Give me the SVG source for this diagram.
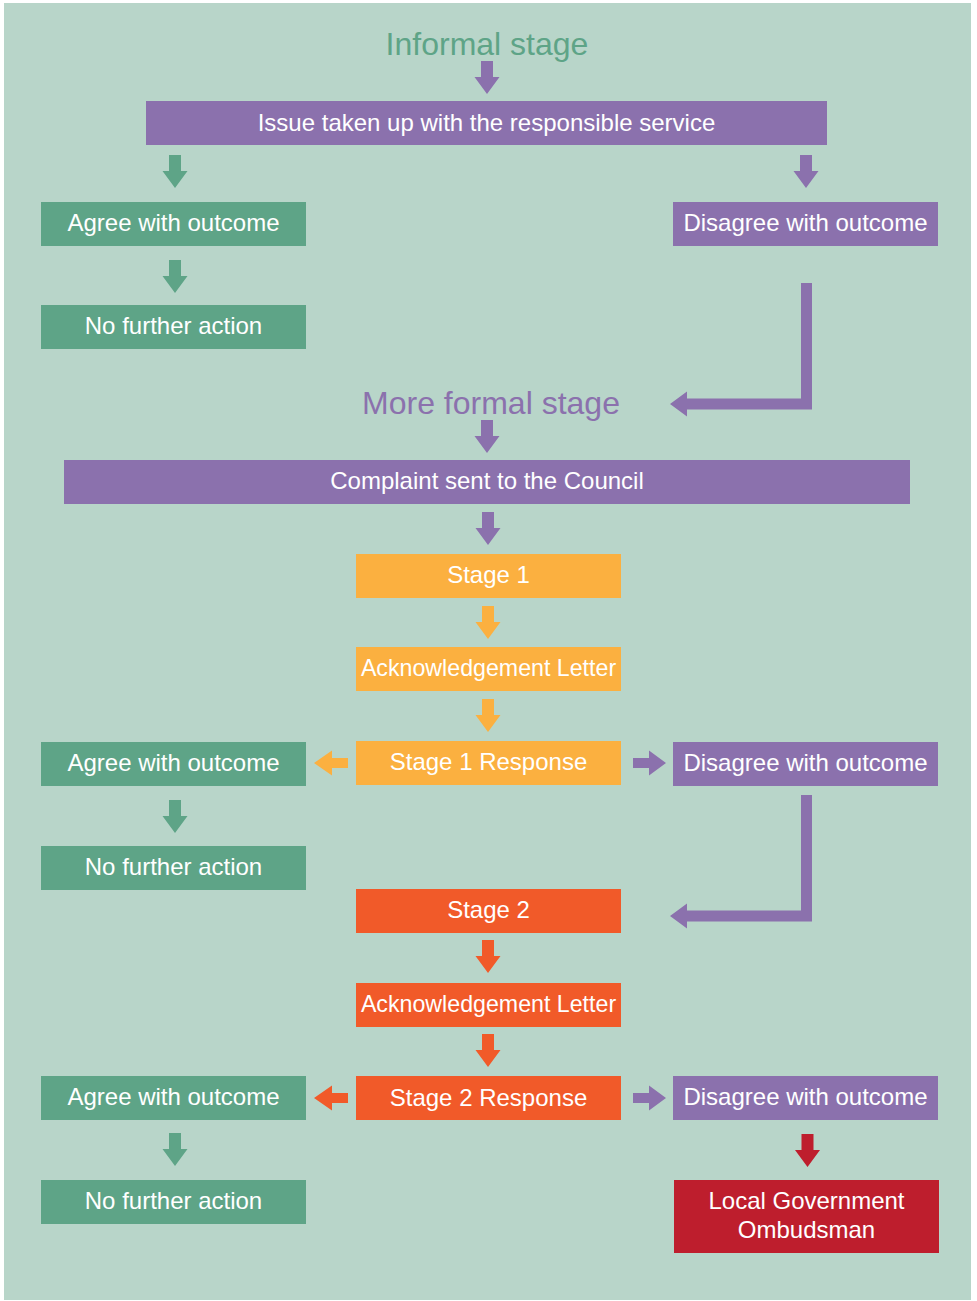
<svg xmlns="http://www.w3.org/2000/svg" width="977" height="1301" viewBox="0 0 977 1301">
<style>
.bg{fill:#b8d5c9}
.pu{fill:#8b71ad}
.gr{fill:#5ea487}
.or{fill:#fbb040}
.ro{fill:#f15a29}
.dr{fill:#be1e2d}
text{font-family:"Liberation Sans",Arial,sans-serif;text-anchor:middle}
.t{fill:#ffffff;font-size:24px}
.ack{font-size:23.2px}
.h{font-size:32px}
</style>
<defs>
<path id="ad" d="M-6,0 H6 V16 H12.5 L0,33 L-12.5,16 H-6 Z"/>
</defs>
<rect x="0" y="0" width="977" height="1301" fill="#ffffff"/>
<rect class="bg" x="4" y="3" width="967" height="1297"/>

<g id="informal-title"><text class="h" x="487" y="55" fill="#5ea487">Informal stage</text></g>
<g id="issue"><rect class="pu" x="146" y="101" width="681" height="44"/><text class="t" x="486.5" y="131">Issue taken up with the responsible service</text></g>
<g id="agree1"><rect class="gr" x="41" y="202" width="265" height="44"/><text class="t" x="173.5" y="231">Agree with outcome</text></g>
<g id="disagree1"><rect class="pu" x="673" y="202" width="265" height="44"/><text class="t" x="805.5" y="231">Disagree with outcome</text></g>
<g id="nfa1"><rect class="gr" x="41" y="305" width="265" height="44"/><text class="t" x="173.5" y="334">No further action</text></g>
<g id="formal-title"><text class="h" x="491" y="414" fill="#8b71ad">More formal stage</text></g>
<g id="complaint"><rect class="pu" x="64" y="460" width="846" height="44"/><text class="t" x="487" y="489">Complaint sent to the Council</text></g>
<g id="stage1"><rect class="or" x="356" y="554" width="265" height="44"/><text class="t" x="488.5" y="583">Stage 1</text></g>
<g id="ack1"><rect class="or" x="356" y="647" width="265" height="44"/><text class="t ack" x="488.5" y="676">Acknowledgement Letter</text></g>
<g id="resp1"><rect class="or" x="356" y="741" width="265" height="44"/><text class="t" x="488.5" y="770">Stage 1 Response</text></g>
<g id="agree2"><rect class="gr" x="41" y="742" width="265" height="44"/><text class="t" x="173.5" y="771">Agree with outcome</text></g>
<g id="disagree2"><rect class="pu" x="673" y="742" width="265" height="44"/><text class="t" x="805.5" y="771">Disagree with outcome</text></g>
<g id="nfa2"><rect class="gr" x="41" y="846" width="265" height="44"/><text class="t" x="173.5" y="875">No further action</text></g>
<g id="stage2"><rect class="ro" x="356" y="889" width="265" height="44"/><text class="t" x="488.5" y="918">Stage 2</text></g>
<g id="ack2"><rect class="ro" x="356" y="983" width="265" height="44"/><text class="t ack" x="488.5" y="1012">Acknowledgement Letter</text></g>
<g id="resp2"><rect class="ro" x="356" y="1076" width="265" height="44"/><text class="t" x="488.5" y="1106">Stage 2 Response</text></g>
<g id="agree3"><rect class="gr" x="41" y="1076" width="265" height="44"/><text class="t" x="173.5" y="1105">Agree with outcome</text></g>
<g id="disagree3"><rect class="pu" x="673" y="1076" width="265" height="44"/><text class="t" x="805.5" y="1105">Disagree with outcome</text></g>
<g id="nfa3"><rect class="gr" x="41" y="1180" width="265" height="44"/><text class="t" x="173.5" y="1209">No further action</text></g>
<g id="lgo"><rect class="dr" x="674" y="1180" width="265" height="73"/><text class="t" x="806.5" y="1209">Local Government</text><text class="t" x="806.5" y="1238">Ombudsman</text></g>

<g id="connectors">
<use href="#ad" class="pu" x="487" y="61"/>
<use href="#ad" class="gr" x="175" y="155"/>
<use href="#ad" class="pu" x="806" y="155"/>
<use href="#ad" class="gr" x="175" y="260"/>
<path class="pu" d="M801,283 H812 V409.5 H687 V416.5 L670,404 L687,391.5 V398.5 H801 Z"/>
<use href="#ad" class="pu" x="487" y="420"/>
<use href="#ad" class="pu" x="488" y="512"/>
<use href="#ad" class="or" x="488" y="606"/>
<use href="#ad" class="or" x="488" y="699"/>
<path class="or" d="M348,758 V768 H332 V775.5 L314,763 L332,750.5 V758 Z"/>
<path class="pu" d="M633,758 V768 H649 V775.5 L666,763 L649,750.5 V758 Z"/>
<use href="#ad" class="gr" x="175" y="800"/>
<path class="pu" d="M801,795 H812 V921.5 H687 V928.5 L670,916 L687,903.5 V910.5 H801 Z"/>
<use href="#ad" class="ro" x="488" y="940"/>
<use href="#ad" class="ro" x="488" y="1034"/>
<path class="ro" d="M348,1093 V1103 H332 V1110.5 L314,1098 L332,1085.5 V1093 Z"/>
<path class="pu" d="M633,1093 V1103 H649 V1110.5 L666,1098 L649,1085.5 V1093 Z"/>
<use href="#ad" class="gr" x="175" y="1133"/>
<use href="#ad" class="dr" x="807.5" y="1134"/>
</g>
</svg>
